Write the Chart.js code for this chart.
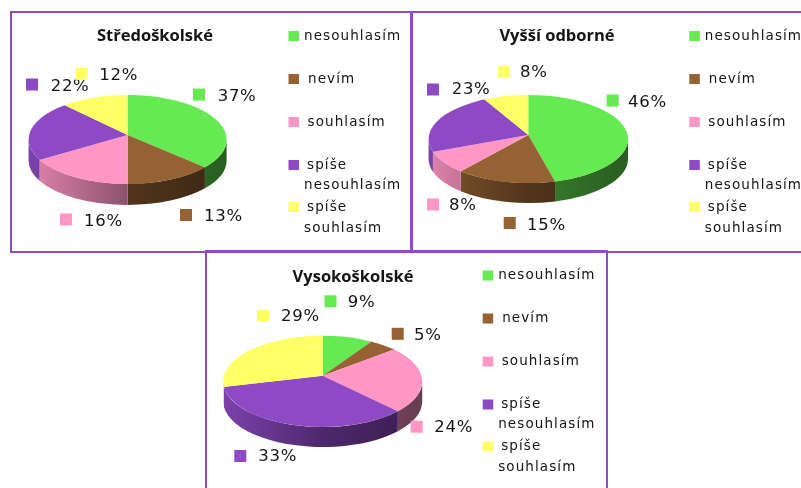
<!DOCTYPE html>
<html><head><meta charset="utf-8">
<script src="https://cdn.jsdelivr.net/npm/chart.js@4"></script>
<style>
html,body{margin:0;padding:0;background:#fff;width:801px;height:488px;overflow:hidden}
#stage{position:absolute;left:0;top:0;width:801px;height:488px;filter:blur(0.45px)}
.panel{position:absolute;border:2.5px solid #8E4CC6;box-sizing:border-box}
canvas{position:absolute;left:0;top:0}
</style></head><body>
<div id="stage">
<div class="panel" style="left:9.5px;top:10.5px;width:403px;height:242px"></div>
<div class="panel" style="left:410px;top:10.5px;width:402px;height:242px"></div>
<div class="panel" style="left:205px;top:250px;width:403px;height:252px"></div>
</div>
<script>
const categories = ["nesouhlasím","nevím","souhlasím","spíše nesouhlasím","spíše souhlasím"];
const titleStredo = "Středoškolské";
const titleVyssi = "Vyšší odborné";
const titleVysoko = "Vysokoškolské";
const valuesStredo = [37,13,16,22,12];
const valuesVyssi = [46,15,8,23,8];
const valuesVysoko = [9,5,24,33,29];

const colors = ["#66EA52","#946233","#FF96C6","#8E4AC4","#FFFF66"];
const W = 801, H = 488;
const TEXT = "#141414";
const LEG_FONT = "13.5px 'DejaVu Sans'", PCT_FONT = "16.5px 'DejaVu Sans'", TITLE_FONT = "bold 16.5px 'Open Sans'";
const SQUASH = 0.445, OVER = 1.25;

function legendRows(x,y){
  return [
    {ky:36, t:[[15.5,36]]},
    {ky:79, t:[[19.5,79]]},
    {ky:122,t:[[19,122]]},
    {ky:165,t:[[18.5,165],[15.5,185]]},
    {ky:207,t:[[18.5,207],[15.5,228]]}
  ].map(r=>({kx:x,ky:r.ky+y,t:r.t.map(a=>[a[0]+x,a[1]+y])}));
}
const panels = [
 {title:titleStredo, values:valuesStredo, tx:155, ty:36, cx:127.6, apex:135, r:99, top:95, bottom:184, depth:21,
  legend:legendRows(288.5,0),
  labels:[[193,94.6,217.7,96.7],[180,215,204,216.7],[60,219.5,84,221.7],[26,84.5,50.7,86.7],[75.5,74,99.3,76]]},
 {title:titleVyssi, values:valuesVyssi, tx:557, ty:36, cx:528.3, apex:135, r:99.7, top:95, bottom:183, depth:20,
  legend:legendRows(689.3,0),
  labels:[[606.7,100.5,628,102.7],[503.7,223,527,225.7],[427,204.5,449,206],[427,89.5,451.7,90],[498,71.7,520,72.7]]},
 {title:titleVysoko, values:valuesVysoko, tx:353, ty:277.7, cx:322.7, apex:375.7, r:99.5, top:335.7, bottom:427, depth:20,
  legend:legendRows(482.7,239.5),
  labels:[[324.5,301.3,347.7,303],[391.7,333.8,414,335.7],[410.7,426.7,434.3,427.7],[234.3,456,258.3,456.7],[257,315.7,281,316.7]]}
];

function shade(hex,f){
  const n=parseInt(hex.slice(1),16);
  return `rgb(${((n>>16)&255)*f|0},${((n>>8)&255)*f|0},${(n&255)*f|0})`;
}
// Where a slice edge leaving the off-centre apex meets the top-face ellipse; returns the ellipse parameter.
function edgeParam(theta,cx,apex,r,ecy,ry){
  const dx=Math.cos(theta), dy=SQUASH*Math.sin(theta), oy=apex-ecy;
  const A=dx*dx/(r*r)+dy*dy/(ry*ry), B=2*oy*dy/(ry*ry), C=oy*oy/(ry*ry)-1;
  const t=(-B+Math.sqrt(B*B-4*A*C))/(2*A);
  let phi=Math.atan2((oy+t*dy)/ry,(t*dx)/r);
  if(phi<-Math.PI/2) phi+=2*Math.PI;
  return phi;
}

const pie3d = {
  id:"pie3d",
  beforeDatasetDraw(chart){
    const ctx=chart.ctx, p=chart.options.plugins.pie3d.panel, meta=chart.getDatasetMeta(0);
    const first=meta.data[0], cx=first.x, cy=first.y, r=first.outerRadius;
    const ecy=(p.top+p.bottom)/2, ry=(p.bottom-p.top)/2;
    meta.data.forEach((arc,i)=>{
      const a=Math.max(edgeParam(arc.startAngle,cx,cy,r,ecy,ry),0);
      const b=Math.min(edgeParam(arc.endAngle,cx,cy,r,ecy,ry),Math.PI);
      if(b<=a) return;
      const g=ctx.createLinearGradient(cx-r,0,cx+r,0), c=colors[i];
      g.addColorStop(0,shade(c,.88)); g.addColorStop(.5,shade(c,.55)); g.addColorStop(1,shade(c,.40));
      ctx.beginPath();
      ctx.ellipse(cx,ecy,r,ry,0,a,b);
      ctx.ellipse(cx,ecy+p.depth,r,ry,0,b,a,true);
      ctx.closePath();
      ctx.fillStyle=g; ctx.fill();
    });
    ctx.save();
    ctx.beginPath(); ctx.ellipse(cx,ecy,r,ry,0,0,Math.PI*2); ctx.clip();
    ctx.translate(cx,cy); ctx.scale(OVER,OVER*SQUASH); ctx.translate(-cx,-cy);
    meta.controller.draw();
    ctx.restore();
    return false;
  },
  afterDraw(chart){
    const ctx=chart.ctx, p=chart.options.plugins.pie3d.panel;
    ctx.save();
    ctx.textBaseline="middle"; ctx.textAlign="center"; ctx.fillStyle=TEXT;
    ctx.font=TITLE_FONT; ctx.letterSpacing="0px";
    ctx.fillText(p.title,p.tx,p.ty);
    ctx.textAlign="left";
    p.labels.forEach((l,i)=>{
      ctx.fillStyle=colors[i]; ctx.fillRect(l[0],l[1]-6,12,12);
      ctx.fillStyle=TEXT; ctx.font=PCT_FONT; ctx.letterSpacing="0.7px";
      ctx.fillText(p.values[i]+"%",l[2],l[3]);
    });
    p.legend.forEach((row,i)=>{
      ctx.fillStyle=colors[i]; ctx.fillRect(row.kx,row.ky-5,10.5,10);
      ctx.fillStyle=TEXT; ctx.font=LEG_FONT; ctx.letterSpacing="1.1px";
      const words=row.t.length>1?categories[i].split(" "):[categories[i]];
      row.t.forEach((t,j)=>ctx.fillText(words[j],t[0],t[1]));
    });
    ctx.restore();
  }
};

const stage=document.getElementById("stage");
panels.forEach(p=>{
  const cv=document.createElement("canvas");
  cv.width=W; cv.height=H; cv.style.width=W+"px"; cv.style.height=H+"px";
  stage.appendChild(cv);
  new Chart(cv,{
    type:"pie",
    data:{labels:categories,datasets:[{data:p.values,backgroundColor:colors,borderWidth:0}]},
    plugins:[pie3d],
    options:{
      responsive:false,animation:false,
      layout:{padding:{left:p.cx-p.r,right:W-p.cx-p.r,top:p.apex-p.r,bottom:H-p.apex-p.r}},
      plugins:{legend:{display:false},title:{display:false},tooltip:{enabled:false},pie3d:{panel:p}}
    }
  });
});
</script>
</body></html>
